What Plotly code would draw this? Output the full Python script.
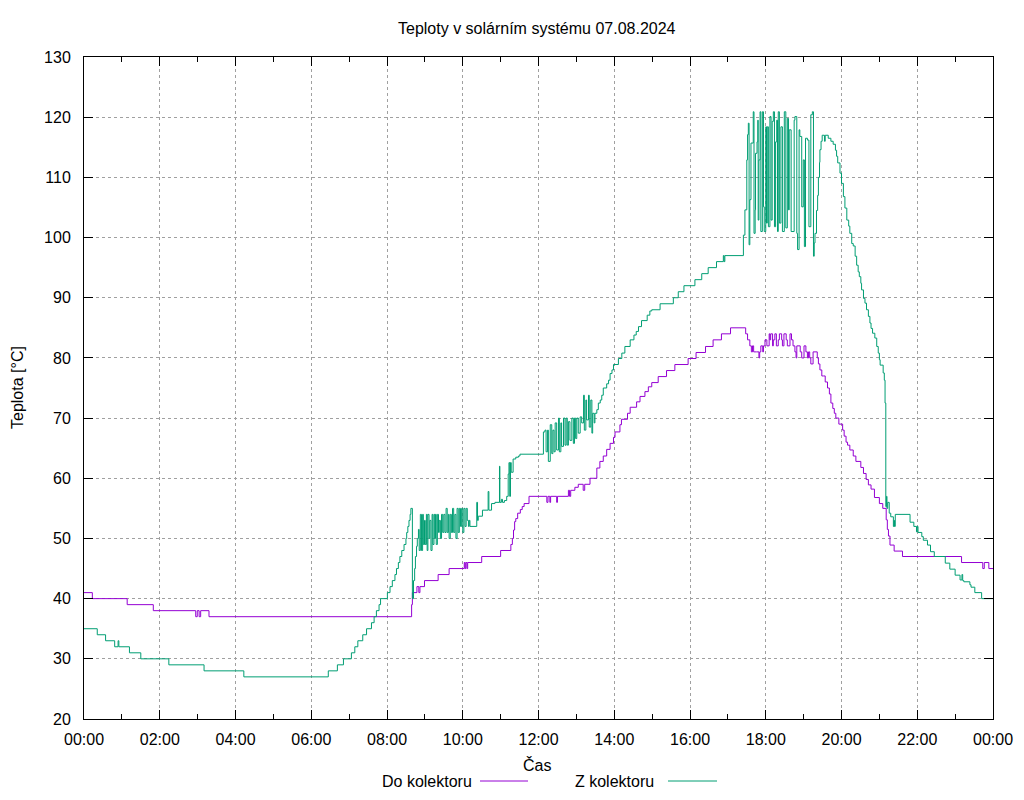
import plotly.graph_objects as go

# ---------------- data (hours since midnight, °C) ----------------
do_t = [0.00, 0.22, 1.14, 1.83, 2.95, 2.99, 3.04, 3.08, 3.30, 8.65, 8.67, 8.79, 8.84, 8.87, 8.99,
        9.35, 9.64, 10.04, 10.06, 10.08, 10.11, 10.13, 10.50, 11.00, 11.27, 11.31, 11.34, 11.37,
        11.40, 11.45, 11.52, 11.57, 11.62, 11.75, 12.22, 12.25, 12.30, 12.32, 12.48, 12.50, 12.79,
        12.82, 12.85, 12.96, 13.05, 13.18, 13.22, 13.36, 13.54, 13.62, 13.71, 13.80, 13.89, 13.98,
        14.02, 14.15, 14.19, 14.35, 14.42, 14.59, 14.68, 14.81, 14.90, 14.99, 15.16, 15.38, 15.60,
        15.95, 16.16, 16.41, 16.61, 16.83, 17.07, 17.47, 17.52, 17.58, 17.62, 17.65, 17.68, 17.76,
        17.82, 17.84, 17.87, 17.92, 17.94, 17.98, 18.03, 18.09, 18.11, 18.13, 18.18, 18.20, 18.24,
        18.28, 18.33, 18.36, 18.42, 18.44, 18.48, 18.54, 18.57, 18.64, 18.68, 18.72, 18.77, 18.80,
        18.82, 18.91, 18.95, 19.01, 19.06, 19.10, 19.13, 19.16, 19.19, 19.25, 19.36, 19.39, 19.43,
        19.48, 19.52, 19.57, 19.63, 19.68, 19.72, 19.77, 19.81, 19.85, 19.93, 20.03, 20.07, 20.12,
        20.16, 20.22, 20.31, 20.38, 20.51, 20.58, 20.65, 20.71, 20.78, 20.87, 21.00, 21.09, 21.18,
        21.21, 21.24, 21.28, 21.39, 21.61, 23.17, 23.73, 23.77, 23.89, 24.00]
do_v = [41, 40, 39, 38, 37, 38, 37, 38, 37, 39, 41, 42, 41, 42, 43,
        44, 45, 46, 45, 46, 45, 46, 47, 48, 49, 50, 51.4, 52.8,
        53.3, 54.2, 54.8, 55.3, 55.8, 57, 56, 57, 56, 57, 56, 57, 58,
        57, 58, 58.5, 59, 58, 59, 60, 61.7, 62.8, 63.7, 64.8, 65.8, 66.8,
        67.7, 68.9, 69.8, 70.8, 71.8, 72.7, 73.6, 74.4, 75.2, 75.9, 76.9, 77.9, 78.9,
        79.9, 80.9, 81.9, 83, 84, 85, 84, 83, 82, 81, 82, 81, 81,
        80, 81, 82, 81, 82, 83, 82, 84, 83, 84, 82, 83, 84,
        82, 83, 84, 83, 82, 84, 83, 82, 84, 83, 82, 81, 80,
        82, 81, 80, 82, 81, 80, 81, 80, 79, 81, 80, 79, 78,
        77, 77, 76, 75, 74, 72.5, 71.6, 70.8, 70, 69, 68, 67, 66,
        65.5, 64.7, 63.7, 62.8, 61.8, 60.8, 59.8, 58.9, 58.2, 56.8, 55.8, 55, 53.1,
        51.5, 50.4, 48.9, 47.9, 47, 46, 45, 46, 45, 45]

z_t = [0.00, 0.35, 0.57, 0.81, 0.90, 0.92, 1.20, 1.50, 2.24, 3.17, 4.22, 6.45, 6.69, 6.85, 7.06,
       7.15, 7.23, 7.36, 7.46, 7.59, 7.66, 7.72, 7.79, 7.83, 8.01, 8.08, 8.14, 8.21, 8.25, 8.30,
       8.34, 8.39, 8.45, 8.50, 8.52, 8.55, 8.58, 8.61, 8.63, 8.67, 8.70, 8.73, 8.75, 8.78, 8.80,
       8.83, 8.85, 8.88, 8.91, 8.94, 8.96, 8.99, 9.01, 9.04, 9.06, 9.08, 9.11, 9.13, 9.16, 9.19,
       9.21, 9.24, 9.26, 9.28, 9.30, 9.33, 9.36, 9.38, 9.41, 9.44, 9.47, 9.50, 9.53, 9.56, 9.59,
       9.62, 9.64, 9.67, 9.70, 9.73, 9.76, 9.79, 9.82, 9.85, 9.88, 9.91, 9.94, 9.97, 10.00, 10.03,
       10.06, 10.09, 10.12, 10.15, 10.17, 10.19, 10.37, 10.39, 10.41, 10.52, 10.67, 10.69, 10.76,
       10.85, 10.97, 10.98, 11.02, 11.05, 11.10, 11.16, 11.20, 11.22, 11.24, 11.26, 11.28, 11.33,
       11.40, 11.47, 11.51, 12.13, 12.17, 12.20, 12.24, 12.26, 12.31, 12.35, 12.38, 12.41, 12.44,
       12.48, 12.53, 12.55, 12.59, 12.61, 12.66, 12.70, 12.73, 12.76, 12.79, 12.83, 12.88, 12.92,
       12.95, 12.98, 13.01, 13.05, 13.10, 13.14, 13.19, 13.21, 13.25, 13.27, 13.32, 13.34, 13.38,
       13.41, 13.43, 13.47, 13.49, 13.54, 13.58, 13.63, 13.67, 13.71, 13.80, 13.85, 13.89, 13.94,
       13.98, 14.11, 14.20, 14.28, 14.42, 14.52, 14.58, 14.64, 14.72, 14.87, 14.94, 14.99, 15.21,
       15.56, 15.69, 15.84, 16.13, 16.31, 16.48, 16.70, 16.88, 16.90, 16.92, 17.41, 17.45, 17.50,
       17.52, 17.54, 17.56, 17.58, 17.61, 17.67, 17.69, 17.72, 17.73, 17.77, 17.79, 17.80, 17.82,
       17.85, 17.87, 17.91, 17.94, 17.96, 18.00, 18.02, 18.04, 18.07, 18.11, 18.14, 18.17, 18.20,
       18.23, 18.26, 18.29, 18.31, 18.33, 18.36, 18.40, 18.44, 18.49, 18.53, 18.57, 18.60, 18.62,
       18.67, 18.75, 18.77, 18.82, 18.84, 18.88, 18.90, 18.95, 18.99, 19.02, 19.05, 19.10, 19.14,
       19.19, 19.23, 19.26, 19.28, 19.30, 19.34, 19.37, 19.39, 19.42, 19.43, 19.46, 19.49, 19.55,
       19.57, 19.65, 19.72, 19.78, 19.84, 19.87, 19.90, 19.96, 20.00, 20.05, 20.09, 20.14, 20.19,
       20.22, 20.27, 20.31, 20.36, 20.40, 20.44, 20.47, 20.51, 20.53, 20.58, 20.62, 20.66, 20.71,
       20.75, 20.78, 20.82, 20.88, 20.93, 20.97, 21.00, 21.02, 21.10, 21.13, 21.15, 21.17, 21.19,
       21.20, 21.22, 21.26, 21.30, 21.37, 21.39, 21.40, 21.42, 21.81, 21.91, 21.98, 22.00, 22.02,
       22.12, 22.16, 22.27, 22.35, 22.45, 22.74, 22.86, 23.00, 23.13, 23.18, 23.20, 23.23, 23.39,
       23.42, 23.52, 23.70, 24.00]
z_v = [35, 34, 33, 32, 33, 32, 31, 30, 29, 28, 27, 28, 29, 30, 31,
       32, 33, 34, 35, 36, 37, 38, 39, 40, 41, 42, 43, 44, 45, 46,
       47, 48, 49, 50, 51, 52, 53, 54, 55, 40, 43, 45, 47, 48.7, 50,
       51.5, 48, 54, 48, 54, 49, 53, 49, 54, 48, 54, 50, 53, 48, 54,
       49, 54, 50, 54, 49, 54, 51, 53, 50, 54, 51, 54, 51, 55, 51,
       54, 50, 54, 51, 55, 51, 54, 50, 55, 51, 55, 52, 55, 51, 55,
       52, 55, 53, 52, 53, 52, 56, 53, 53.7, 54.7, 57.8, 54.7, 55.8,
       56, 62, 56, 56.5, 56, 56.3, 57, 60.7, 62.6, 57, 62.6, 61, 63.2,
       63.5, 63.7, 64, 67.7, 68, 64.4, 68, 62.8, 68.9, 64.1, 68, 64.4, 69.2,
       64.7, 70, 64.4, 69.2, 65.3, 70, 65.5, 70, 65.5, 69.4, 66.3, 70, 65.8,
       70, 66.6, 70, 67.5, 70.2, 69.2, 73.8, 68, 73, 69.7, 73.8, 68.5, 73,
       67.5, 70.8, 69.2, 70.8, 71.4, 72.5, 73, 73.8, 75, 75.7, 76.3, 77.4, 78,
       78.9, 79.9, 80.8, 81.9, 83, 83.8, 84.4, 85.2, 86.2, 87.1, 87.8, 88, 89,
       90, 91, 92, 93, 94, 95, 96, 97, 96, 97, 100.4, 104.6, 112.9,
       117.1, 119.0, 98.8, 106.3, 115.7, 120.9, 100.7, 104.6, 114.0, 115.9, 119.5, 102.9, 112.9,
       120.9, 101.0, 120.9, 105.1, 101.0, 118.4, 102.4, 118.4, 101.8, 120.1, 102.9, 119.3, 120.9,
       101.8, 115.9, 119.5, 101.0, 120.9, 102.4, 118.4, 101.0, 120.9, 101.6, 119.8, 104.6, 117.9,
       101.0, 119.5, 120.1, 100.7, 98.0, 117.9, 116.8, 105.1, 112.9, 98.5, 116.5, 116.2, 101.8,
       120.4, 120.9, 96.9, 99.1, 100.7, 104.5, 107, 110, 112.5, 114.6, 116, 117, 116,
       117, 116.5, 116, 115.5, 114.5, 113.5, 112.4, 110.7, 109, 106.8, 104.9, 102.9, 101.9,
       100.7, 99, 98.6, 96.9, 95.4, 94.3, 93.5, 92.4, 91.3, 89.9, 89.1, 88, 86.9,
       85.8, 84.9, 84.1, 83.3, 81.9, 80.8, 79.7, 78.8, 77.5, 76.3, 72.5, 55.3, 57,
       55, 56, 54.2, 53.6, 52, 53, 52, 54, 52.7, 52, 51.1, 52, 51,
       50.3, 49.7, 48.9, 47.8, 47, 45.9, 44.9, 43.9, 43.1, 44, 43, 42.8, 42.3,
       41.9, 41, 40, 40]

x_tickvals = [0, 2, 4, 6, 8, 10, 12, 14, 16, 18, 20, 22, 24]
x_ticktext = ["00:00", "02:00", "04:00", "06:00", "08:00", "10:00", "12:00",
              "14:00", "16:00", "18:00", "20:00", "22:00", "00:00"]
x_minor = [1, 3, 5, 7, 9, 11, 13, 15, 17, 19, 21, 23]
y_tickvals = [20, 30, 40, 50, 60, 70, 80, 90, 100, 110, 120, 130]

series_names = ["Do kolektoru", "Z kolektoru"]
PURPLE = "#9400D3"
GREEN = "#009E73"
FONT = "Liberation Sans, Arial, sans-serif"
FS = 16

fig = go.Figure()
fig.add_trace(go.Scatter(x=do_t, y=do_v, mode="lines", line=dict(color=PURPLE, width=1, shape="hv"),
                         name=series_names[0], showlegend=False))
fig.add_trace(go.Scatter(x=z_t, y=z_v, mode="lines", line=dict(color=GREEN, width=1, shape="hv"),
                         name=series_names[1], showlegend=False))

axis_common = dict(showline=True, linecolor="black", linewidth=1, mirror="ticks",
                   ticks="inside", ticklen=9, tickcolor="black", tickwidth=1,
                   showgrid=True, gridcolor="#a0a0a0", gridwidth=1, griddash="3px,3px",
                   zeroline=False, tickfont=dict(family=FONT, size=FS, color="black"))

fig.update_xaxes(range=[0, 24], tickmode="array", tickvals=x_tickvals, ticktext=x_ticktext,
                 ticklabelstandoff=6,
                 minor=dict(tickmode="array", tickvals=x_minor, ticks="inside", ticklen=5,
                            tickcolor="black", showgrid=False),
                 **axis_common)
fig.update_yaxes(range=[20, 130], tickmode="array", tickvals=y_tickvals, ticklabelstandoff=9,
                 **axis_common)

# page body has an 8px margin, so the figure is drawn 8px smaller and offset
OFF = 8
W, H = 1024 - OFF, 800 - OFF
L, R, T, B = 84, 993, 57, 719   # plot area in page pixels


def px(x):
    return (x - L) / (R - L)


def py(y):
    return (B - y) / (B - T)


annotations = [
    dict(text="Teploty v solárním systému 07.08.2024", x=px(537), y=py(28), xref="paper", yref="paper",
         showarrow=False, font=dict(family=FONT, size=FS, color="black"), xanchor="center", yanchor="middle"),
    dict(text="Teplota [°C]", x=px(17), y=py(388), xref="paper", yref="paper", textangle=-90,
         showarrow=False, font=dict(family=FONT, size=FS, color="black"), xanchor="center", yanchor="middle"),
    dict(text="Čas", x=px(537), y=py(765), xref="paper", yref="paper",
         showarrow=False, font=dict(family=FONT, size=FS, color="black"), xanchor="center", yanchor="middle"),
    dict(text=series_names[0], x=px(474), y=py(781), xref="paper", yref="paper",
         showarrow=False, font=dict(family=FONT, size=FS, color="black"), xanchor="right", yanchor="middle"),
    dict(text=series_names[1], x=px(656), y=py(781), xref="paper", yref="paper",
         showarrow=False, font=dict(family=FONT, size=FS, color="black"), xanchor="right", yanchor="middle"),
]
shapes = [
    dict(type="line", xref="paper", yref="paper", x0=px(480), x1=px(528), y0=py(781), y1=py(781),
         line=dict(color=PURPLE, width=1)),
    dict(type="line", xref="paper", yref="paper", x0=px(668), x1=px(717), y0=py(781), y1=py(781),
         line=dict(color=GREEN, width=1)),
]

fig.update_layout(width=W, height=H,
                  margin=dict(l=L - OFF, r=(W + OFF) - R, t=T - OFF, b=(H + OFF) - B, pad=0),
                  paper_bgcolor="white", plot_bgcolor="white", showlegend=False,
                  annotations=annotations, shapes=shapes,
                  font=dict(family=FONT, size=FS, color="black"))

fig.write_html("out.html")
